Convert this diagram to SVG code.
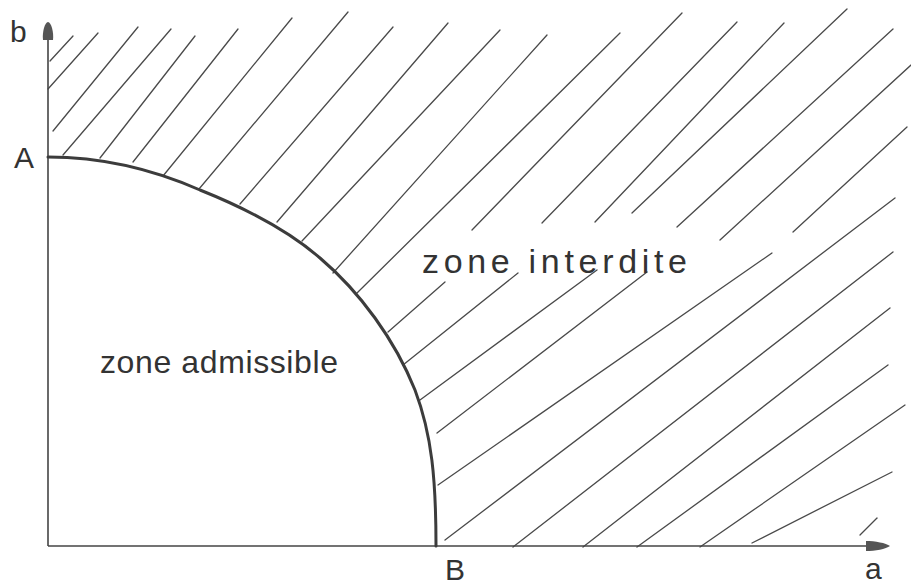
<svg xmlns="http://www.w3.org/2000/svg" width="911" height="587" viewBox="0 0 911 587">
<style>
.h{stroke:#4a4a4a;stroke-width:1.3;fill:none;stroke-linecap:round}
.ax{stroke:#444;stroke-width:1.6;fill:none}
.cv{stroke:#3c3c3c;stroke-width:3;fill:none;stroke-linecap:round}
.lb{font-family:"Liberation Sans",Arial,sans-serif;font-size:30px;fill:#333}
.zt{font-family:"Liberation Sans",Arial,sans-serif;fill:#333}
.ah{fill:#555}
</style>
<rect width="911" height="587" fill="#ffffff"/>
<g id="hatching">
<line class="h" x1="50" y1="61" x2="73" y2="36"/>
<line class="h" x1="48" y1="89" x2="98" y2="33"/>
<line class="h" x1="53" y1="131" x2="138" y2="27"/>
<line class="h" x1="63" y1="155" x2="171" y2="29"/>
<line class="h" x1="100" y1="158" x2="195" y2="36"/>
<line class="h" x1="133" y1="162" x2="238" y2="29"/>
<line class="h" x1="163" y1="176" x2="292" y2="18"/>
<line class="h" x1="199" y1="189" x2="348" y2="12"/>
<line class="h" x1="240" y1="204" x2="393" y2="27"/>
<line class="h" x1="277" y1="222" x2="448" y2="23"/>
<line class="h" x1="302" y1="241" x2="500" y2="30"/>
<line class="h" x1="333" y1="273" x2="547" y2="35"/>
<line class="h" x1="357" y1="293" x2="620" y2="33"/>
<line class="h" x1="388" y1="332" x2="445" y2="282"/>
<line class="h" x1="403" y1="365" x2="518" y2="273"/>
<line class="h" x1="420" y1="400" x2="597" y2="270"/>
<line class="h" x1="437" y1="433" x2="647" y2="272"/>
<line class="h" x1="438" y1="485" x2="772" y2="253"/>
<line class="h" x1="445" y1="540" x2="895" y2="198"/>
<line class="h" x1="513" y1="547" x2="893" y2="252"/>
<line class="h" x1="583" y1="547" x2="890" y2="308"/>
<line class="h" x1="637" y1="547" x2="888" y2="365"/>
<line class="h" x1="700" y1="547" x2="905" y2="405"/>
<line class="h" x1="752" y1="543" x2="892" y2="472"/>
<line class="h" x1="860" y1="535" x2="877" y2="518"/>
<line class="h" x1="472" y1="230" x2="682" y2="13"/>
<line class="h" x1="542" y1="223" x2="737" y2="22"/>
<line class="h" x1="595" y1="222" x2="784" y2="23"/>
<line class="h" x1="632" y1="213" x2="847" y2="9"/>
<line class="h" x1="677" y1="227" x2="893" y2="29"/>
<line class="h" x1="720" y1="240" x2="911" y2="65"/>
<line class="h" x1="793" y1="232" x2="907" y2="127"/>
</g>
<g id="axes">
<line class="ax" x1="48" y1="546" x2="48" y2="34"/>
<path class="ah" d="M43,40 C42,32 45,22 48,22 C51,22 54,32 53,40 Z"/>
<line class="ax" x1="48" y1="546" x2="872" y2="546"/>
<path class="ah" d="M866,541 C875,541 886,543 890,546 C886,549 875,551 866,551 Z"/>
</g>
<g id="boundary">
<path class="cv" d="M48,157 C100,157 150,168 200,190 C245,208 290,232 320,258 C360,292 395,340 415,390 C432,435 436,480 436,546"/>
</g>
<g id="labels">
<text class="lb" x="10" y="42" font-size="28">b</text>
<text class="lb" x="14" y="168">A</text>
<text class="lb" x="445" y="580">B</text>
<text class="lb" x="865" y="579" font-size="26">a</text>
</g>
<g id="zone-interdite">
<text class="zt" x="422" y="273" font-size="34" textLength="265" lengthAdjust="spacing">zone interdite</text>
</g>
<g id="zone-admissible">
<text class="zt" x="100" y="373" font-size="32" textLength="238" lengthAdjust="spacing">zone admissible</text>
</g>
</svg>
